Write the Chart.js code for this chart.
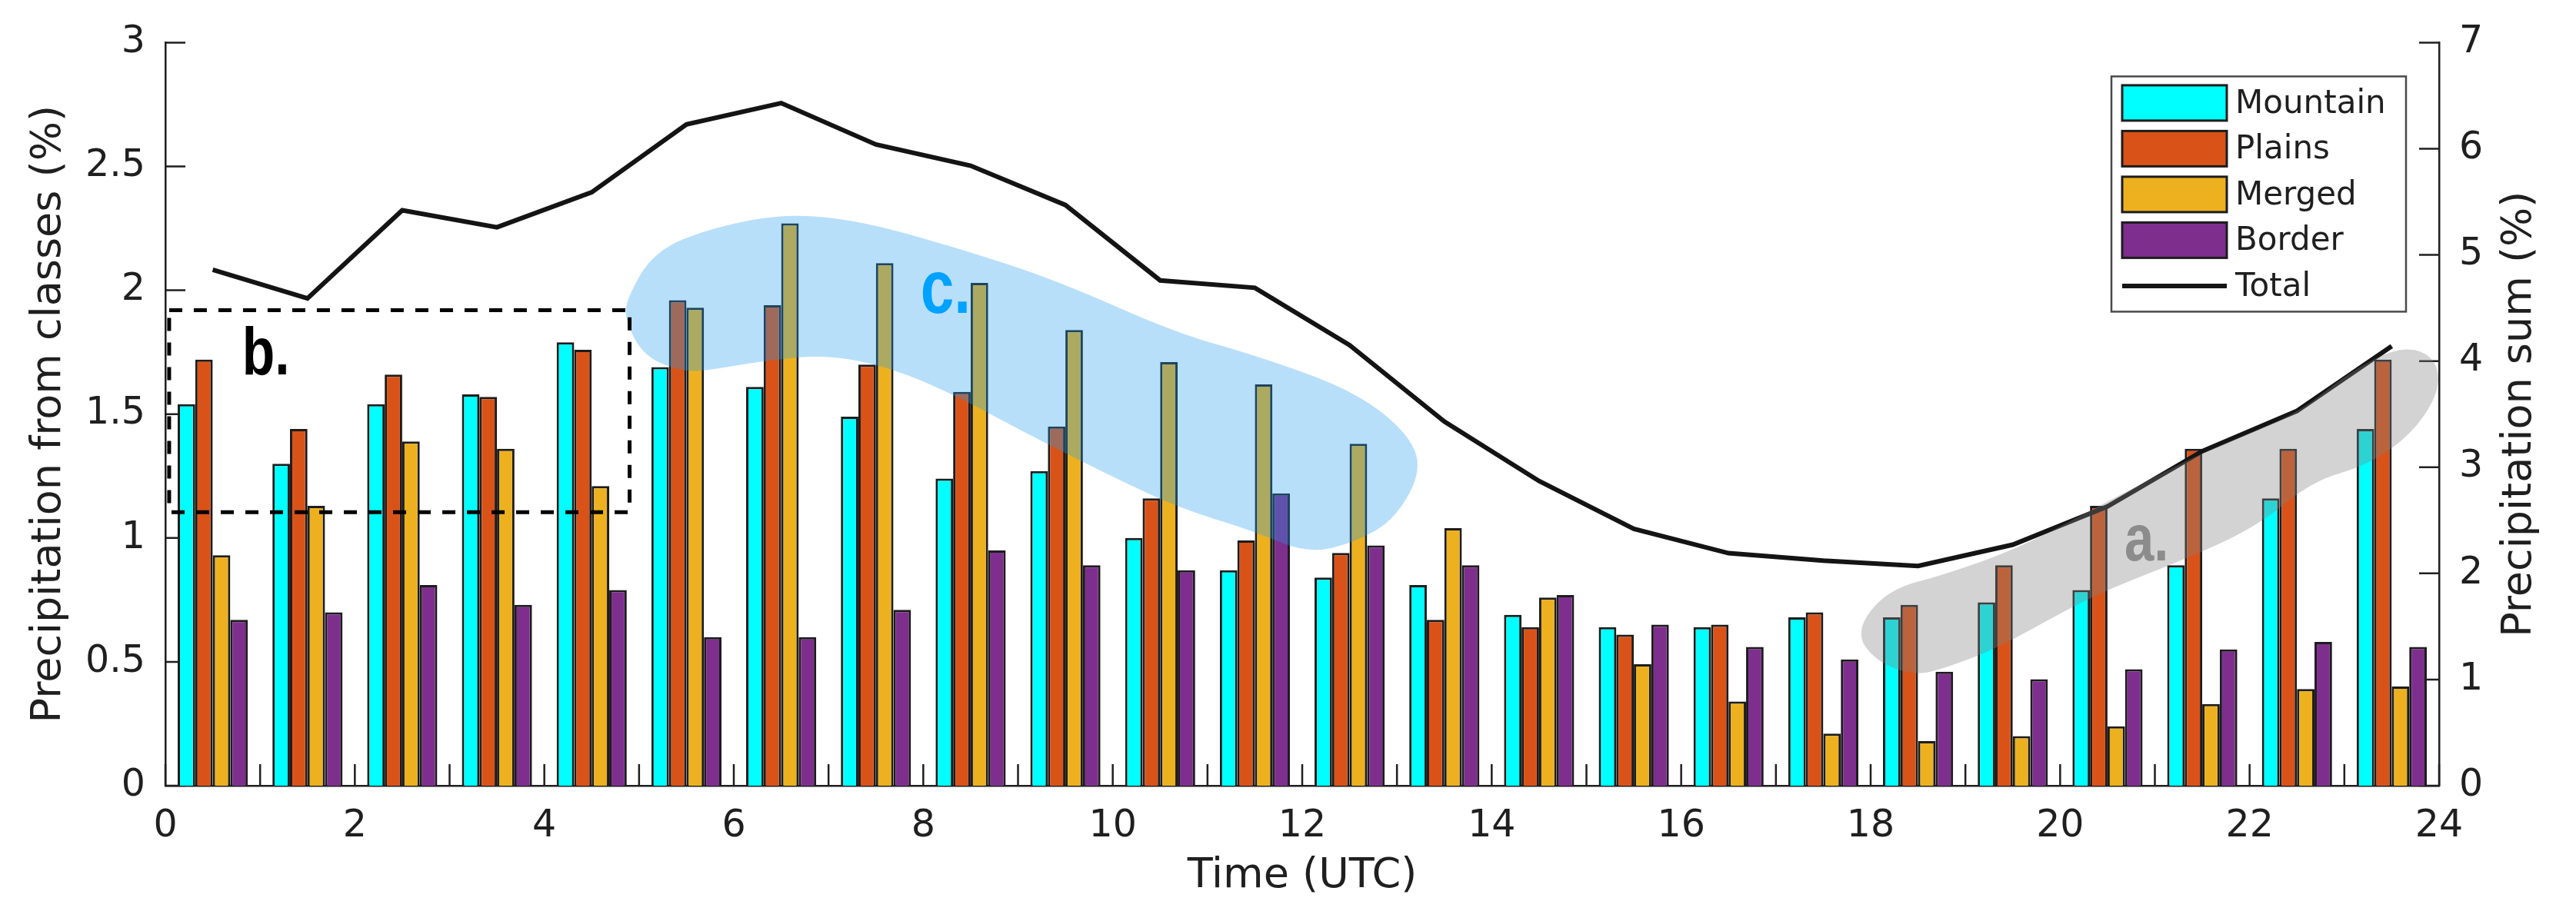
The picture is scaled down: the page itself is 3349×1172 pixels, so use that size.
<!DOCTYPE html>
<html>
<head>
<meta charset="utf-8">
<title>Diurnal precipitation by class</title>
<script src="https://cdn.jsdelivr.net/npm/chart.js@4.4.1/dist/chart.umd.min.js"></script>
<style>
  html, body { margin: 0; padding: 0; background: #ffffff; }
  #wrap { width: 3349px; height: 1172px; }
  canvas { display: block; }
</style>
</head>
<body>
<div id="wrap"><canvas id="chart" width="3349" height="1172"></canvas></div>
<script>
// Hour-of-day bins (centre of each UTC hour)
const hours = [0.5, 1.5, 2.5, 3.5, 4.5, 5.5, 6.5, 7.5, 8.5, 9.5, 10.5, 11.5,
               12.5, 13.5, 14.5, 15.5, 16.5, 17.5, 18.5, 19.5, 20.5, 21.5, 22.5, 23.5];

// Share of precipitation per class (%), left axis
const mountain = [1.54, 1.30, 1.54, 1.58, 1.79, 1.69, 1.61, 1.49, 1.24, 1.27, 1.00, 0.87,
                  0.84, 0.81, 0.69, 0.64, 0.64, 0.68, 0.68, 0.74, 0.79, 0.89, 1.16, 1.44];
const plains   = [1.72, 1.44, 1.66, 1.57, 1.76, 1.96, 1.94, 1.70, 1.59, 1.45, 1.16, 0.99,
                  0.94, 0.67, 0.64, 0.61, 0.65, 0.70, 0.73, 0.89, 1.13, 1.36, 1.36, 1.72];
const merged   = [0.93, 1.13, 1.39, 1.36, 1.21, 1.93, 2.27, 2.11, 2.03, 1.84, 1.71, 1.62,
                  1.38, 1.04, 0.76, 0.49, 0.34, 0.21, 0.18, 0.20, 0.24, 0.33, 0.39, 0.40];
const border   = [0.67, 0.70, 0.81, 0.73, 0.79, 0.60, 0.60, 0.71, 0.95, 0.89, 0.87, 1.18,
                  0.97, 0.89, 0.77, 0.65, 0.56, 0.51, 0.46, 0.43, 0.47, 0.55, 0.58, 0.56];

// Precipitation sum (%), right axis
const total    = [4.86, 4.59, 5.42, 5.26, 5.59, 6.23, 6.43, 6.04, 5.84, 5.47, 4.76, 4.69,
                  4.15, 3.43, 2.87, 2.42, 2.19, 2.12, 2.07, 2.27, 2.63, 3.15, 3.53, 4.14];

// Axis ticks
const xTickValues  = [0, 2, 4, 6, 8, 10, 12, 14, 16, 18, 20, 22, 24];
const xMinorTicks  = [0, 1, 2, 3, 4, 5, 6, 7, 8, 9, 10, 11, 12, 13, 14, 15, 16, 17, 18, 19, 20, 21, 22, 23, 24];
const yTickValues  = [0, 0.5, 1, 1.5, 2, 2.5, 3];
const yTickLabels  = ['0', '0.5', '1', '1.5', '2', '2.5', '3'];
const y2TickValues = [0, 1, 2, 3, 4, 5, 6, 7];
const y2TickLabels = ['0', '1', '2', '3', '4', '5', '6', '7'];

// Highlighted regions, outlined in (hour, class %) coordinates
const regionC = [[4.86, 1.96], [5.16, 2.16], [5.79, 2.255], [6.56, 2.31], [7.34, 2.28], [8.37, 2.17],
                 [9.41, 2.04], [10.65, 1.83], [11.48, 1.74], [12.52, 1.60], [13.10, 1.43], [13.27, 1.28],
                 [12.99, 1.08], [12.58, 0.985], [12.06, 0.936], [11.48, 1.03], [10.70, 1.12], [9.93, 1.26],
                 [9.05, 1.43], [8.37, 1.57], [7.65, 1.69], [6.97, 1.74], [6.30, 1.715], [5.79, 1.68],
                 [5.47, 1.67], [5.06, 1.73], [4.86, 1.87]];
const regionA = [[17.83, 0.62], [18.17, 0.79], [18.79, 0.853], [19.57, 0.96], [20.33, 1.113], [21.42, 1.331],
                 [22.08, 1.436], [22.55, 1.515], [23.05, 1.669], [23.51, 1.761], [23.82, 1.761], [24.0, 1.69],
                 [23.98, 1.574], [23.71, 1.42], [23.25, 1.294], [22.66, 1.23], [22.08, 1.046], [21.30, 0.911],
                 [20.33, 0.767], [19.36, 0.558], [18.79, 0.475], [18.48, 0.445], [18.07, 0.497]];
const regionB = { x0: 0.04, x1: 4.90, y0: 1.104, y1: 1.92 };
const regionLabels = [
  { text: 'b.', x: 0.81, y: 1.66, size: 87, color: '#000000' },
  { text: 'c.', x: 7.97, y: 1.91, size: 98, color: '#00a2ff' },
  { text: 'a.', x: 20.68, y: 0.91, size: 86, color: '#8c8c8c' }
];

const AXIS = '#1f1f1f';
const FONT = "'DejaVu Sans', sans-serif";
const EDGE = '#1c1c1c';

function points(values) {
  return hours.map((h, i) => ({ x: h, y: values[i] }));
}
function barSet(label, values, color) {
  return {
    type: 'bar', label, data: points(values),
    backgroundColor: color, borderColor: EDGE, borderWidth: 3,
    categoryPercentage: 0.74, barPercentage: 1.0,
    yAxisID: 'y', order: 1
  };
}

// Matlab-style inward tick marks on all three axes
const innerTicks = {
  id: 'innerTicks',
  beforeDatasetsDraw(chart) {
    const { ctx, chartArea: a, scales } = chart;
    ctx.save();
    ctx.strokeStyle = AXIS;
    ctx.lineWidth = 2.5;
    ctx.beginPath();
    xMinorTicks.forEach(v => {
      const px = scales.x.getPixelForValue(v);
      ctx.moveTo(px, a.bottom); ctx.lineTo(px, a.bottom - 28);
    });
    yTickValues.forEach(v => {
      const py = scales.y.getPixelForValue(v);
      ctx.moveTo(a.left, py); ctx.lineTo(a.left + 26, py);
    });
    y2TickValues.forEach(v => {
      const py = scales.y2.getPixelForValue(v);
      ctx.moveTo(a.right, py); ctx.lineTo(a.right - 26, py);
    });
    ctx.stroke();
    ctx.restore();
  }
};

function smoothClosed(ctx, pts) {
  const n = pts.length;
  const mid = (p, q) => [(p[0] + q[0]) / 2, (p[1] + q[1]) / 2];
  const start = mid(pts[n - 1], pts[0]);
  ctx.beginPath();
  ctx.moveTo(start[0], start[1]);
  for (let i = 0; i < n; i++) {
    const p = pts[i], q = pts[(i + 1) % n];
    const m = mid(p, q);
    ctx.quadraticCurveTo(p[0], p[1], m[0], m[1]);
  }
  ctx.closePath();
}

// Shaded regions, dashed box and their letters
const regions = {
  id: 'regions',
  afterDatasetsDraw(chart) {
    const { ctx, scales: { x, y } } = chart;
    const px = p => [x.getPixelForValue(p[0]), y.getPixelForValue(p[1])];
    ctx.save();
    smoothClosed(ctx, regionC.map(px));
    ctx.fillStyle = 'rgba(34, 155, 236, 0.32)';
    ctx.fill();
    smoothClosed(ctx, regionA.map(px));
    ctx.fillStyle = 'rgba(128, 128, 128, 0.35)';
    ctx.fill();

    const bx0 = x.getPixelForValue(regionB.x0), bx1 = x.getPixelForValue(regionB.x1);
    const by0 = y.getPixelForValue(regionB.y0), by1 = y.getPixelForValue(regionB.y1);
    ctx.setLineDash([17, 15]);
    ctx.lineWidth = 5;
    ctx.strokeStyle = '#000000';
    ctx.strokeRect(bx0, by1, bx1 - bx0, by0 - by1);
    ctx.setLineDash([]);

    regionLabels.forEach(l => {
      ctx.save();
      ctx.translate(x.getPixelForValue(l.x), y.getPixelForValue(l.y));
      ctx.scale(0.8, 1);
      ctx.font = `bold ${l.size}px 'Liberation Sans', Arial, sans-serif`;
      ctx.fillStyle = l.color;
      ctx.textAlign = 'left';
      ctx.textBaseline = 'alphabetic';
      ctx.fillText(l.text, 0, 0);
      ctx.restore();
    });
    ctx.restore();
  }
};

// Boxed legend in the upper right and the right-hand axis title
const frame = {
  id: 'frame',
  afterDraw(chart) {
    const { ctx, chartArea: a } = chart;
    ctx.save();
    const boxR = a.right - 43, boxW = 383, boxT = a.top + 44, boxH = 306;
    const boxL = boxR - boxW;
    ctx.fillStyle = '#ffffff';
    ctx.fillRect(boxL, boxT, boxW, boxH);
    ctx.lineWidth = 2.5;
    ctx.strokeStyle = '#4a4a4a';
    ctx.strokeRect(boxL, boxT, boxW, boxH);

    const swL = boxL + 14, swW = 136, swH = 46, rowH = 59.5;
    ctx.font = `42px ${FONT}`;
    ctx.textBaseline = 'middle';
    ctx.textAlign = 'left';
    chart.data.datasets.forEach((ds, i) => {
      const cy = boxT + 34.5 + i * rowH;
      if (ds.type === 'bar') {
        ctx.fillStyle = ds.backgroundColor;
        ctx.fillRect(swL, cy - swH / 2, swW, swH);
        ctx.lineWidth = 3;
        ctx.strokeStyle = EDGE;
        ctx.strokeRect(swL, cy - swH / 2, swW, swH);
      } else {
        ctx.beginPath();
        ctx.moveTo(swL, cy); ctx.lineTo(swL + swW, cy);
        ctx.lineWidth = ds.borderWidth;
        ctx.strokeStyle = ds.borderColor;
        ctx.stroke();
      }
      ctx.fillStyle = AXIS;
      ctx.fillText(ds.label, swL + swW + 11, cy + 2);
    });

    ctx.translate(chart.width - 73, (a.top + a.bottom) / 2);
    ctx.rotate(-Math.PI / 2);
    ctx.font = `54px ${FONT}`;
    ctx.textAlign = 'center';
    ctx.textBaseline = 'middle';
    ctx.fillStyle = AXIS;
    ctx.fillText('Precipitation sum (%)', 0, 0);
    ctx.restore();
  }
};

const tickFont = { family: FONT, size: 49 };
const titleFont = { family: FONT, size: 54 };

new Chart(document.getElementById('chart'), {
  type: 'bar',
  data: {
    datasets: [
      barSet('Mountain', mountain, '#00ffff'),
      barSet('Plains', plains, '#d95319'),
      barSet('Merged', merged, '#edb120'),
      barSet('Border', border, '#7e2f8e'),
      {
        type: 'line', label: 'Total', data: points(total),
        borderColor: '#141414', borderWidth: 6, pointRadius: 0, tension: 0,
        yAxisID: 'y2', order: 0
      }
    ]
  },
  options: {
    responsive: false,
    devicePixelRatio: 1,
    animation: false,
    layout: { padding: { top: 44, left: 0, right: 0, bottom: 0 } },
    plugins: { legend: { display: false }, tooltip: { enabled: false } },
    scales: {
      x: {
        type: 'linear', min: 0, max: 24, offset: false,
        afterFit: s => { s.height = 150; },
        afterBuildTicks: s => { s.ticks = xTickValues.map(v => ({ value: v })); },
        ticks: { font: tickFont, color: AXIS, padding: 24, autoSkip: false, maxRotation: 0,
                 callback: v => String(v) },
        grid: { display: false, drawTicks: false, offset: false },
        border: { display: true, color: AXIS, width: 2.5 },
        title: { display: true, text: 'Time (UTC)', font: titleFont, color: AXIS,
                 padding: { top: 0, bottom: 0 } }
      },
      y: {
        type: 'linear', position: 'left', min: 0, max: 3,
        afterFit: s => { s.width = 215; },
        afterBuildTicks: s => { s.ticks = yTickValues.map(v => ({ value: v })); },
        ticks: { font: tickFont, color: AXIS, padding: 26, callback: (v, i) => yTickLabels[i] },
        grid: { display: false, drawTicks: false },
        border: { display: true, color: AXIS, width: 2.5 },
        title: { display: true, text: 'Precipitation from classes (%)', font: titleFont, color: AXIS,
                 padding: { top: 32, bottom: 0 } }
      },
      y2: {
        type: 'linear', position: 'right', min: 0, max: 7,
        afterFit: s => { s.width = 178; },
        afterBuildTicks: s => { s.ticks = y2TickValues.map(v => ({ value: v })); },
        ticks: { font: tickFont, color: AXIS, padding: 26, callback: (v, i) => y2TickLabels[i] },
        grid: { display: false, drawTicks: false },
        border: { display: true, color: AXIS, width: 2.5 }
      }
    }
  },
  plugins: [innerTicks, regions, frame]
});
</script>
</body>
</html>
